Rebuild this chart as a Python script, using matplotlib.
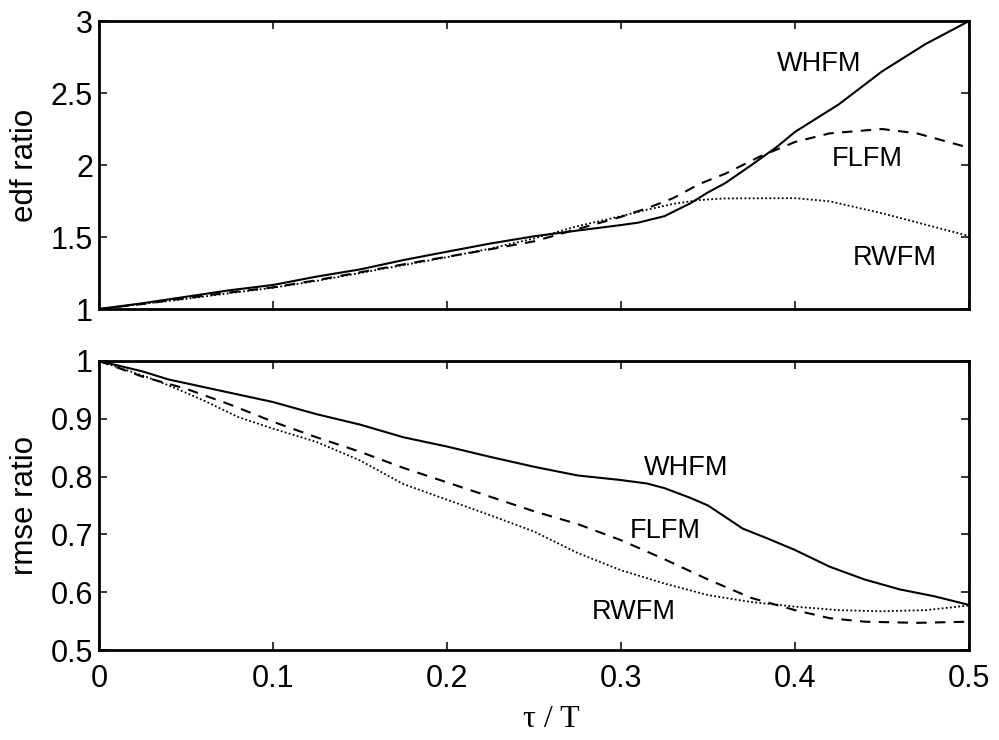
import matplotlib
matplotlib.use("Agg")
import matplotlib.pyplot as plt
from matplotlib.ticker import FuncFormatter

plt.rcParams['font.family'] = ['Liberation Sans', 'DejaVu Sans']

# ---------------- data ----------------
# Top panel: edf ratio
x_whfm_edf = [0, 0.025, 0.05, 0.075, 0.1, 0.125, 0.15, 0.175, 0.2, 0.225, 0.25, 0.275,
              0.3, 0.31, 0.325, 0.34, 0.35, 0.36, 0.375, 0.39, 0.4, 0.425, 0.45, 0.475, 0.5]
whfm_edf = [1.0, 1.04, 1.085, 1.13, 1.167, 1.225, 1.275, 1.34, 1.398, 1.455, 1.505, 1.545,
            1.583, 1.60, 1.645, 1.735, 1.81, 1.875, 2.0, 2.13, 2.23, 2.42, 2.65, 2.84, 3.0]

x_flfm_edf = [0, 0.025, 0.05, 0.075, 0.1, 0.125, 0.15, 0.175, 0.2, 0.225, 0.25, 0.275,
              0.3, 0.315, 0.33, 0.345, 0.36, 0.38, 0.4, 0.42, 0.45, 0.47, 0.5]
flfm_edf = [1.0, 1.035, 1.075, 1.115, 1.15, 1.2, 1.255, 1.31, 1.363, 1.415, 1.47, 1.555,
            1.64, 1.70, 1.77, 1.868, 1.94, 2.06, 2.16, 2.22, 2.25, 2.22, 2.12]

x_rwfm_edf = [0, 0.025, 0.05, 0.075, 0.1, 0.125, 0.15, 0.175, 0.2, 0.225, 0.25, 0.275,
              0.3, 0.315, 0.33, 0.345, 0.36, 0.4, 0.42, 0.45, 0.48, 0.5]
rwfm_edf = [1.0, 1.035, 1.07, 1.11, 1.148, 1.195, 1.25, 1.305, 1.36, 1.42, 1.49, 1.575,
            1.645, 1.69, 1.73, 1.757, 1.768, 1.77, 1.748, 1.665, 1.57, 1.507]

# Bottom panel: rmse ratio
x_whfm_rmse = [0, 0.025, 0.04, 0.06, 0.08, 0.1, 0.125, 0.15, 0.175, 0.2, 0.225, 0.25, 0.275,
               0.3, 0.315, 0.325, 0.34, 0.35, 0.37, 0.385, 0.4, 0.42, 0.44, 0.46, 0.48, 0.5]
whfm_rmse = [1.0, 0.982, 0.968, 0.955, 0.942, 0.929, 0.908, 0.89, 0.868, 0.852, 0.834, 0.817, 0.802,
             0.794, 0.788, 0.78, 0.763, 0.75, 0.71, 0.692, 0.673, 0.644, 0.622, 0.605, 0.593, 0.578]

x_flfm_rmse = [0, 0.025, 0.05, 0.075, 0.1, 0.125, 0.15, 0.175, 0.2, 0.225, 0.25, 0.275,
               0.3, 0.325, 0.35, 0.375, 0.4, 0.42, 0.44, 0.47, 0.5]
flfm_rmse = [1.0, 0.973, 0.952, 0.925, 0.895, 0.868, 0.843, 0.815, 0.79, 0.765, 0.74, 0.718,
             0.69, 0.657, 0.622, 0.59, 0.569, 0.555, 0.549, 0.547, 0.549]

x_rwfm_rmse = [0, 0.025, 0.04, 0.06, 0.08, 0.1, 0.125, 0.15, 0.175, 0.2, 0.225, 0.25, 0.275,
               0.3, 0.325, 0.35, 0.375, 0.4, 0.425, 0.45, 0.475, 0.5]
rwfm_rmse = [1.0, 0.975, 0.958, 0.932, 0.903, 0.883, 0.86, 0.828, 0.787, 0.76, 0.733, 0.705, 0.668,
             0.638, 0.615, 0.595, 0.583, 0.575, 0.569, 0.567, 0.569, 0.577]

x_ticks = [0, 0.1, 0.2, 0.3, 0.4, 0.5]
edf_ticks = [1, 1.5, 2, 2.5, 3]
rmse_ticks = [0.5, 0.6, 0.7, 0.8, 0.9, 1.0]

labels = ["WHFM", "FLFM", "RWFM"]
top_label_pos = [(0.3897, 2.653), (0.4213, 1.995), (0.4333, 1.306)]
bot_label_pos = [(0.3132, 0.8028), (0.3052, 0.6932), (0.2831, 0.5536)]

# ---------------- figure ----------------
fig = plt.figure(figsize=(9.99, 7.40), dpi=100)
left, width = 0.099, 0.871
ax1 = fig.add_axes([left, 0.5824, width, 0.3892])
ax2 = fig.add_axes([left, 0.1216, width, 0.3906])

solid = dict(color='black', lw=1.5, linestyle='-')
dashed = dict(color='black', lw=1.5, linestyle=(0, (5, 4)))
dotted = dict(color='black', lw=1.3, linestyle=(0, (1, 1.3)))

ax1.plot(x_whfm_edf, whfm_edf, **solid)
ax1.plot(x_flfm_edf, flfm_edf, **dashed)
ax1.plot(x_rwfm_edf, rwfm_edf, **dotted)

ax2.plot(x_whfm_rmse, whfm_rmse, **solid)
ax2.plot(x_flfm_rmse, flfm_rmse, **dashed)
ax2.plot(x_rwfm_rmse, rwfm_rmse, **dotted)

for ax, pos in ((ax1, top_label_pos), (ax2, bot_label_pos)):
    for lab, (tx, ty) in zip(labels, pos):
        ax.text(tx, ty, lab, fontsize=19.5, ha='left', va='baseline')

ax1.set_xlim(0, 0.5)
ax1.set_ylim(1, 3)
ax2.set_xlim(0, 0.5)
ax2.set_ylim(0.5, 1.0)

fmt = FuncFormatter(lambda v, p: f"{v:g}")
ax1.set_xticks(x_ticks)
ax1.set_xticklabels([])
ax1.set_yticks(edf_ticks)
ax1.yaxis.set_major_formatter(fmt)

ax2.set_xticks(x_ticks)
ax2.xaxis.set_major_formatter(fmt)
ax2.set_yticks(rmse_ticks)
ax2.yaxis.set_major_formatter(fmt)

for ax in (ax1, ax2):
    for s in ax.spines.values():
        s.set_linewidth(2.0)
    ax.tick_params(direction='in', top=True, right=True, length=5.8, width=1.1,
                   labelsize=22)
    ax.tick_params(axis='y', pad=4.3)
    ax.tick_params(axis='x', pad=10)

ax1.set_ylabel("edf ratio", fontsize=22.5)
ax2.set_ylabel("rmse ratio", fontsize=22.5)
ax1.yaxis.set_label_coords(-0.068, 0.5)
ax2.yaxis.set_label_coords(-0.068, 0.5)

ax2.set_xlabel("τ / T", fontsize=23, family=['Liberation Serif', 'DejaVu Serif'])
ax2.xaxis.set_label_coords(0.5195, -0.19)

fig.savefig("out.png", dpi=100)
